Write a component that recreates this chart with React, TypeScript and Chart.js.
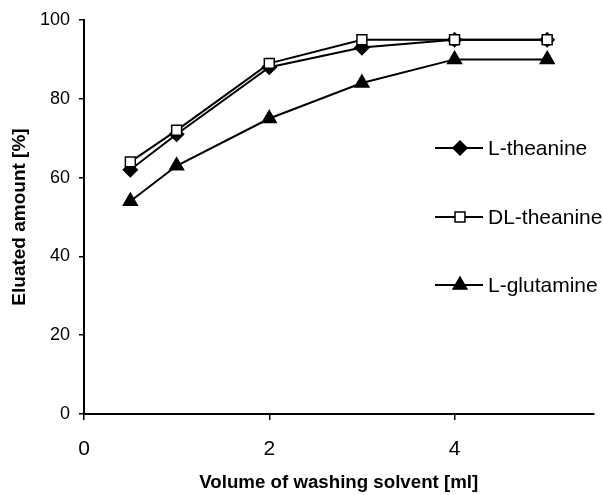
import React, { useEffect, useRef } from "react";
import { Chart, registerables } from "chart.js";
import * as helpers from "chart.js/helpers";

Chart.register(...registerables);

const volumes = [0.5, 1, 2, 3, 4, 5];
const lTheanine = [62, 71, 88, 93, 95, 95];
const dlTheanine = [64, 72, 89, 95, 95, 95];
const lGlutamine = [54, 63, 75, 84, 90, 90];
const seriesLabels = ["L-theanine", "DL-theanine", "L-glutamine"];
const xTitle = "Volume of washing solvent [ml]";
const yTitle = "Eluated amount [%]";

const FONT = "'Liberation Sans', Arial, sans-serif";

const toPoints = (ys: number[]) => volumes.map((x, i) => ({ x, y: ys[i] }));

const legendPlugin = {
  id: "customLegend",
  afterDraw(chart: any) {
    const ctx = chart.ctx;
    const lx0 = 435;
    const lx1 = 483;
    const mx = 460;
    const tx = 488;
    const ys = [148, 217, 285];
    ctx.save();
    chart.data.datasets.forEach((ds: any, i: number) => {
      const y = ys[i];
      ctx.strokeStyle = "#000";
      ctx.lineWidth = 2;
      ctx.beginPath();
      ctx.moveTo(lx0, y);
      ctx.lineTo(lx1, y);
      ctx.stroke();
      ctx.fillStyle = ds.pointBackgroundColor;
      ctx.strokeStyle = ds.pointBorderColor;
      ctx.lineWidth = ds.pointBorderWidth;
      helpers.drawPoint(
        ctx,
        { pointStyle: ds.pointStyle, radius: ds.pointRadius, borderWidth: ds.pointBorderWidth, rotation: 0 },
        mx,
        y
      );
      ctx.fillStyle = "#000";
      ctx.font = `21px ${FONT}`;
      ctx.textAlign = "left";
      ctx.textBaseline = "middle";
      ctx.fillText(ds.label, tx, y + 1);
    });
    ctx.restore();
  },
};

export default function App() {
  const ref = useRef<HTMLCanvasElement | null>(null);
  useEffect(() => {
    if (!ref.current) return;
    const common = {
      borderColor: "#000",
      borderWidth: 2,
      pointBorderColor: "#000",
      pointBorderWidth: 1.5,
      showLine: true,
      tension: 0,
    };
    const chart = new Chart(ref.current, {
      type: "line",
      data: {
        datasets: [
          {
            ...common,
            label: seriesLabels[0],
            data: toPoints(lTheanine),
            pointStyle: "rectRot",
            pointRadius: 7,
            pointBackgroundColor: "#000",
            order: 1,
          },
          {
            ...common,
            label: seriesLabels[1],
            data: toPoints(dlTheanine),
            pointStyle: "rect",
            pointRadius: 7,
            pointBackgroundColor: "#fff",
            order: 0,
          },
          {
            ...common,
            label: seriesLabels[2],
            data: toPoints(lGlutamine),
            pointStyle: "triangle",
            pointRadius: 8,
            pointBackgroundColor: "#000",
            order: 2,
          },
        ] as any,
      },
      options: {
        responsive: false,
        animation: false,
        layout: { padding: { top: 20, right: 8, left: 0, bottom: 0 } },
        plugins: {
          legend: { display: false },
          tooltip: { enabled: false },
        },
        scales: {
          x: {
            type: "linear",
            min: 0,
            max: 5.5,
            afterFit: (s: any) => {
              s.height = 81;
            },
            ticks: {
              stepSize: 2,
              includeBounds: false,
              color: "#000",
              font: { family: FONT, size: 21 },
              padding: 17,
            },
            grid: {
              display: true,
              drawOnChartArea: false,
              drawTicks: true,
              tickLength: 6,
              color: "#000",
              lineWidth: 1.5,
            },
            border: { display: true, color: "#000", width: 2 },
            title: {
              display: true,
              text: xTitle,
              color: "#000",
              font: { family: FONT, size: 18.7, weight: "bold" },
              padding: { top: 0, bottom: 1 },
            },
          },
          y: {
            type: "linear",
            min: 0,
            max: 100,
            afterFit: (s: any) => {
              s.width = 84;
            },
            ticks: {
              stepSize: 20,
              color: "#000",
              font: { family: FONT, size: 18 },
              padding: 9,
            },
            grid: {
              display: true,
              drawOnChartArea: false,
              drawTicks: true,
              tickLength: 5,
              color: "#000",
              lineWidth: 1.5,
            },
            border: { display: true, color: "#000", width: 2 },
            title: {
              display: true,
              text: yTitle,
              color: "#000",
              font: { family: FONT, size: 19, weight: "bold" },
              padding: { top: 8, bottom: 0 },
            },
          },
        },
      } as any,
      plugins: [legendPlugin],
    });
    return () => chart.destroy();
  }, []);
  return (
    <div style={{ position: "absolute", left: 0, top: 0, width: 603, height: 495, background: "#fff" }}>
      <canvas ref={ref} width={603} height={495} />
    </div>
  );
}
